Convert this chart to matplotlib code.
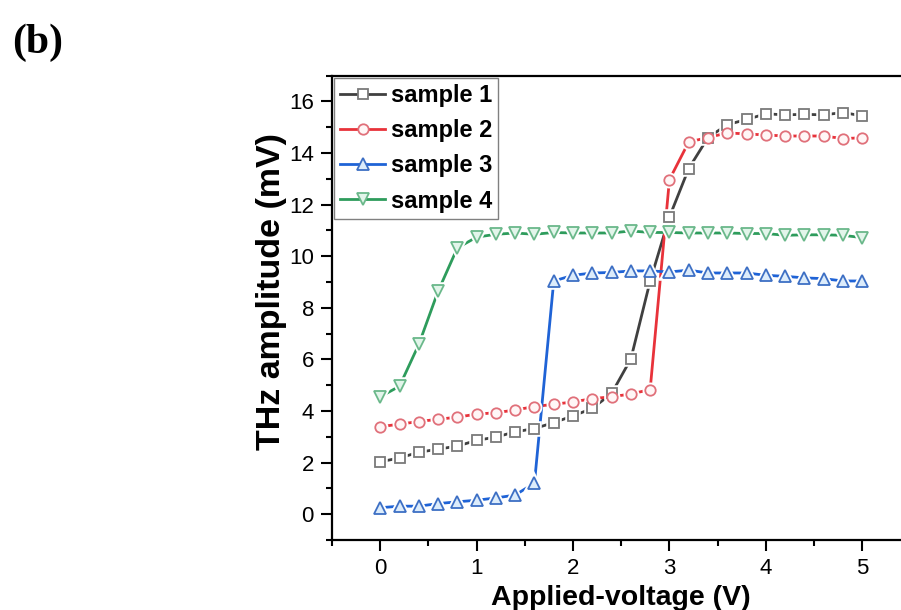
import numpy as np
import matplotlib
matplotlib.use("Agg")
import matplotlib.pyplot as plt
from matplotlib.ticker import MultipleLocator

# applied voltage (V)
voltage = np.arange(26) * 0.2

# THz amplitude (mV)
sample1 = [2.03, 2.18, 2.40, 2.52, 2.64, 2.86, 2.99, 3.19, 3.32, 3.55,
           3.81, 4.10, 4.68, 6.02, 9.04, 11.52, 13.40, 14.60, 15.10, 15.30,
           15.52, 15.48, 15.50, 15.48, 15.57, 15.44]
sample2 = [3.39, 3.49, 3.59, 3.68, 3.76, 3.88, 3.93, 4.04, 4.17, 4.26,
           4.35, 4.48, 4.55, 4.66, 4.83, 12.97, 14.43, 14.60, 14.78, 14.74,
           14.70, 14.66, 14.66, 14.66, 14.56, 14.59]
sample3 = [0.25, 0.31, 0.31, 0.41, 0.48, 0.54, 0.63, 0.74, 1.21, 9.04,
           9.26, 9.35, 9.37, 9.43, 9.43, 9.39, 9.46, 9.35, 9.35, 9.35,
           9.26, 9.22, 9.16, 9.13, 9.04, 9.04]
sample4 = [4.55, 4.96, 6.58, 8.64, 10.32, 10.74, 10.85, 10.90, 10.85, 10.92,
           10.90, 10.90, 10.90, 10.98, 10.92, 10.92, 10.90, 10.90, 10.90, 10.88,
           10.88, 10.81, 10.83, 10.83, 10.81, 10.72]

labels = ["sample 1", "sample 2", "sample 3", "sample 4"]
series = [sample1, sample2, sample3, sample4]
line_colors = ["#404040", "#e8323a", "#1f63d6", "#2e9c5c"]
edge_colors = ["#7a7a7a", "#e0707a", "#3d6fc4", "#6ab88a"]
face_colors = ["#ffffff", "#fff6f6", "#dcecfb", "#e2f5ea"]
markers = ["s", "o", "^", "v"]
msizes = [7, 7.5, 8.5, 8.5]

plt.rcParams['font.family'] = ['Liberation Sans', 'DejaVu Sans']

fig = plt.figure(figsize=(9.01, 6.10), dpi=100)
ax = fig.add_axes([0.3685, 0.1148, 0.642, 0.7612])

handles = []
for y, lab, lc, ec, fc, mk, ms in zip(series, labels, line_colors, edge_colors,
                                      face_colors, markers, msizes):
    ax.plot(voltage, y, color=lc, lw=2, zorder=2)
    # white halo so the line stops short of each marker
    ax.plot(voltage, y, ls="none", marker=mk, ms=ms, mfc="white", mec="white",
            mew=4, zorder=3)
    ax.plot(voltage, y, ls="none", marker=mk, ms=ms, mfc=fc, mec=ec,
            mew=1.3, zorder=4)
    h, = ax.plot([], [], color=lc, lw=2, marker=mk, ms=ms, mfc=fc, mec=ec,
                 mew=1.3, label=lab)
    handles.append(h)

ax.set_xlim(-0.5, 5.5)
ax.set_ylim(-1, 17)
ax.xaxis.set_major_locator(MultipleLocator(1))
ax.xaxis.set_minor_locator(MultipleLocator(0.5))
ax.yaxis.set_major_locator(MultipleLocator(2))
ax.yaxis.set_minor_locator(MultipleLocator(1))
ax.tick_params(which="major", direction="out", length=8, width=1.5,
               labelsize=16, pad=5)
ax.tick_params(which="minor", direction="out", length=4, width=1.5)
for s in ax.spines.values():
    s.set_linewidth(1.6)

ax.set_xlabel("Applied-voltage (V)", fontsize=20.5, fontweight="bold", labelpad=4)
ax.set_ylabel("THz amplitude (mV)", fontsize=24.5, fontweight="bold")
ax.yaxis.set_label_coords(-0.078, 0.535)

leg = ax.legend(handles=handles, loc="upper left", bbox_to_anchor=(0.0, 1.0),
                borderaxespad=0.1, fancybox=False, framealpha=1,
                edgecolor="#808080", handlelength=1.9, handletextpad=0.25,
                labelspacing=0.52, borderpad=0.25,
                prop={"size": 17, "weight": "bold"})
leg.get_frame().set_linewidth(1.0)

fig.text(0.014, 0.913, "(b)", fontsize=30, fontweight="bold",
         family=["Liberation Serif", "DejaVu Serif"], va="baseline")

fig.savefig("out.png", dpi=100)
